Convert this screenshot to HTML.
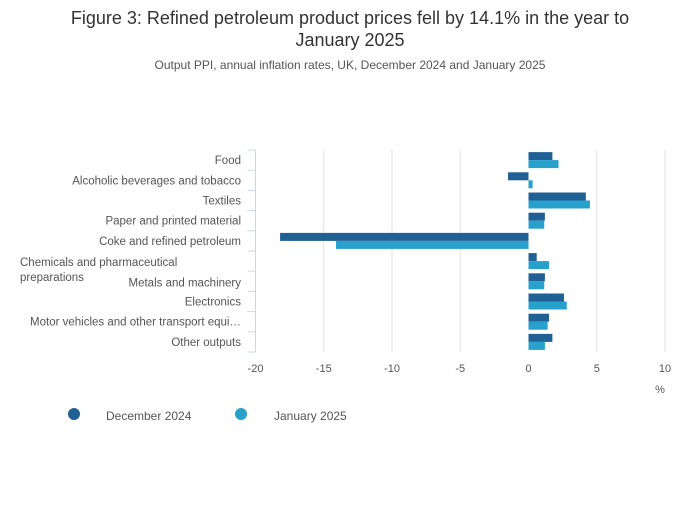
<!DOCTYPE html>
<html><head><meta charset="utf-8"><style>
body{margin:0;background:#fff;font-family:"Liberation Sans",sans-serif;}
svg text{font-family:"Liberation Sans",sans-serif;}
</style></head><body>
<svg id="chart" width="700" height="502">
<text x="350" y="24" text-anchor="middle" font-size="18" fill="#333">Figure 3: Refined petroleum product prices fell by 14.1% in the year to</text>
<text x="350" y="46" text-anchor="middle" font-size="18" fill="#333">January 2025</text>
<text x="350" y="69" text-anchor="middle" font-size="12" fill="#555">Output PPI, annual inflation rates, UK, December 2024 and January 2025</text>
<g id="grid"></g><g id="bars"></g><g id="axes"></g>
<text x="660" y="393" text-anchor="middle" font-size="11" fill="#555">%</text>
<circle cx="74" cy="414" r="6" fill="#206095"/>
<text x="106" y="420" font-size="12" fill="#555">December 2024</text>
<circle cx="241" cy="414" r="6" fill="#27a0cc"/>
<text x="274" y="420" font-size="12" fill="#555">January 2025</text>
</svg>
<script>
const categories=["Food","Alcoholic beverages and tobacco","Textiles","Paper and printed material","Coke and refined petroleum","Chemicals and pharmaceutical preparations","Metals and machinery","Electronics","Motor vehicles and other transport equi…","Other outputs"];
const dec2024=[1.75,-1.5,4.2,1.2,-18.2,0.6,1.2,2.6,1.5,1.75];
const jan2025=[2.2,0.3,4.5,1.15,-14.1,1.5,1.15,2.8,1.4,1.2];
const xTicks=[-20,-15,-10,-5,0,5,10];
const NS="http://www.w3.org/2000/svg";
const x0=255.5,x1=665,vmin=-20,vmax=10,yTop=150,yBot=352;
const xs=v=>x0+(v-vmin)/(vmax-vmin)*(x1-x0);
const band=(yBot-yTop)/categories.length;
function mk(tag,attrs,parent){const e=document.createElementNS(NS,tag);for(const k in attrs)e.setAttribute(k,attrs[k]);document.getElementById(parent).appendChild(e);return e;}
xTicks.forEach(t=>{
  if(t!==vmin&&t!==0){const l=mk('line',{x1:xs(t),x2:xs(t),y1:yTop,y2:yBot,stroke:'#e2e2e2','stroke-width':1},'grid');
  
  }
  const tx=mk('text',{x:xs(t),y:yBot+20,'text-anchor':'middle','font-size':11,fill:'#555'},'axes');tx.textContent=t;
  
  
});
const ax=mk('line',{x1:x0,x2:x0,y1:yTop,y2:yBot,stroke:'#ccd6eb','stroke-width':1},'axes');


for(let i=0;i<=categories.length;i++){const y=yTop+i*band;const tk=mk('line',{x1:x0-8,x2:x0,y1:y,y2:y,stroke:'#ccd6eb'},'axes');

}
categories.forEach((c,i)=>{
  const cy=yTop+i*band+band/2;
  if(c.startsWith("Chemicals")){
    const t1=mk('text',{x:20,y:cy+5,'font-size':11.5,fill:'#555'},'axes');t1.textContent="Chemicals and pharmaceutical";
    
    
    const t2=mk('text',{x:20,y:cy+20,'font-size':11.5,fill:'#555'},'axes');t2.textContent="preparations";
    
    
  } else {
    const yy=c.startsWith("Metals")?cy+5:cy+4;
    const t=mk('text',{x:241,y:yy,'text-anchor':'end','font-size':11.5,fill:'#555'},'axes');t.textContent=c;
    
    
  }
  [[dec2024,'#206095',-8],[jan2025,'#27a0cc',0]].forEach(([arr,col,off])=>{
    const v=arr[i];const a=xs(0),b=xs(v);
    const r=mk('rect',{x:Math.min(a,b),y:cy+off,width:Math.abs(b-a),height:8,fill:col},'bars');
    
    
  });
});
</script>
</body></html>
